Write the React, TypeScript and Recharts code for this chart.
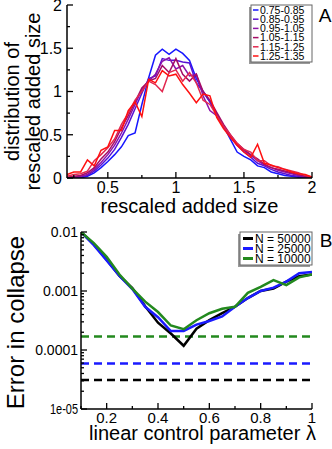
import React from "react";
import { LineChart, Line, XAxis, YAxis, ReferenceLine } from "recharts";

// panel A: distribution of rescaled added size, one curve per birth-size bin
const sizeBins = [
  0.2, 0.25, 0.3, 0.35, 0.4, 0.45, 0.5, 0.55, 0.6, 0.65, 0.7, 0.75, 0.8, 0.85, 0.9, 0.95, 1.0, 1.05, 1.1,
  1.15, 1.2, 1.25, 1.3, 1.35, 1.4, 1.45, 1.5, 1.55, 1.6, 1.65, 1.7, 1.75, 1.8, 1.85, 1.9, 1.95, 2.0,
];
const binNames = ["0.75-0.85", "0.85-0.95", "0.95-1.05", "1.05-1.15", "1.15-1.25", "1.25-1.35"];
const binColors = ["#1616ff", "#5810d4", "#8c12aa", "#a60c66", "#e2284f", "#ff1010"];

const dist075 = [0, 0, 0, 0.02, 0.06, 0.12, 0.19, 0.27, 0.36, 0.49, 0.52, 0.85, 1.16, 1.42, 1.49, 1.43, 1.49, 1.44, 1.36, 1.15, 1.0, 0.88, 0.73, 0.6, 0.45, 0.3, 0.25, 0.21, 0.14, 0.12, 0.07, 0.05, 0.03, 0.02, 0.01, 0, 0];
const dist085 = [0, 0, 0.01, 0.03, 0.08, 0.15, 0.23, 0.33, 0.47, 0.62, 0.8, 0.98, 1.15, 1.18, 1.38, 1.36, 1.36, 1.34, 1.33, 1.1, 1.0, 0.88, 0.74, 0.6, 0.48, 0.38, 0.3, 0.24, 0.17, 0.14, 0.1, 0.07, 0.05, 0.03, 0.02, 0.01, 0];
const dist095 = [0, 0.01, 0.02, 0.04, 0.1, 0.18, 0.27, 0.38, 0.52, 0.68, 0.85, 1.02, 1.12, 1.2, 1.35, 1.39, 1.26, 1.3, 1.18, 1.2, 0.95, 0.78, 0.72, 0.6, 0.48, 0.38, 0.32, 0.26, 0.2, 0.15, 0.12, 0.09, 0.07, 0.05, 0.03, 0.02, 0];
const dist105 = [0.01, 0.02, 0.03, 0.06, 0.12, 0.22, 0.3, 0.42, 0.58, 0.72, 0.88, 1.04, 1.12, 1.15, 1.3, 1.22, 1.38, 1.2, 1.12, 1.2, 1.0, 0.9, 0.76, 0.62, 0.5, 0.4, 0.33, 0.27, 0.22, 0.16, 0.12, 0.1, 0.08, 0.06, 0.04, 0.02, 0];
const dist115 = [0.02, 0.04, 0.05, 0.08, 0.2, 0.27, 0.35, 0.45, 0.62, 0.75, 0.9, 1.0, 1.12, 1.08, 1.0, 1.22, 1.25, 1.12, 1.22, 1.1, 0.9, 0.85, 0.72, 0.6, 0.5, 0.4, 0.33, 0.3, 0.2, 0.2, 0.14, 0.13, 0.1, 0.08, 0.06, 0.03, 0.01];
const dist125 = [0.04, 0.07, 0.07, 0.21, 0.14, 0.32, 0.36, 0.55, 0.55, 0.78, 0.88, 0.71, 1.14, 1.1, 1.24, 1.18, 1.2, 1.08, 0.98, 0.87, 0.97, 0.95, 0.7, 0.57, 0.47, 0.38, 0.3, 0.24, 0.39, 0.17, 0.15, 0.12, 0.1, 0.07, 0.05, 0.04, 0.01];
const distSeries = [dist075, dist085, dist095, dist105, dist115, dist125];

const xTicksA = [0.25, 0.5, 0.75, 1, 1.25, 1.5, 1.75, 2];
const yTicksA = [0, 0.25, 0.5, 0.75, 1, 1.25, 1.5, 1.75, 2];

// panel B: collapse error vs lambda
const lambdas = [0.1, 0.15, 0.2, 0.25, 0.3, 0.35, 0.4, 0.45, 0.5, 0.55, 0.6, 0.65, 0.7, 0.75, 0.8, 0.85, 0.9, 0.95, 1.0];
const err50000 = [0.01, 0.0062, 0.0034, 0.0018, 0.00112, 0.00055, 0.00029, 0.00019, 0.000118, 0.00023, 0.00032, 0.00042, 0.00054, 0.00076, 0.001, 0.0011, 0.00144, 0.00178, 0.0019];
const err25000 = [0.01, 0.006, 0.0033, 0.0018, 0.00108, 0.00054, 0.00036, 0.00021, 0.00021, 0.00027, 0.00031, 0.00037, 0.00054, 0.00076, 0.001, 0.00114, 0.00144, 0.002, 0.0021];
const err10000 = [0.01, 0.0065, 0.0038, 0.0019, 0.0011, 0.00066, 0.00044, 0.00026, 0.000225, 0.00032, 0.00042, 0.0005, 0.00054, 0.00093, 0.00118, 0.00153, 0.00126, 0.0017, 0.0019];
const noiseFloor = [0.000031, 0.000059, 0.00017]; // 50000, 25000, 10000
const sizeNames = ["N = 50000", "N = 25000", "N = 10000"];
const sizeColors = ["#000000", "#1a1aff", "#23891e"];

const xTicksB = [0.1, 0.2, 0.3, 0.4, 0.5, 0.6, 0.7, 0.8, 0.9, 1];
const yTicksB: number[] = [];
[1e-5, 1e-4, 1e-3].forEach((d) => {
  for (let k = 1; k < 10; k++) yTicksB.push(k * d);
});
yTicksB.push(1e-2);
const yLabelsB: Record<string, string> = { "-2": "0.01", "-3": "0.001", "-4": "0.0001", "-5": "1e-05" };

const dataA = sizeBins.map((x, i) => {
  const row: any = { x };
  distSeries.forEach((s, j) => (row["s" + j] = s[i]));
  return row;
});
const dataB = lambdas.map((x, i) => ({ x, n50000: err50000[i], n25000: err25000[i], n10000: err10000[i] }));
const keysB = ["n50000", "n25000", "n10000"];

const near = (v: number) => Math.abs(v - Math.round(v)) < 1e-6;
const majorA = (v: number) => near(v * 2);
const majorBx = (v: number) => near(v * 5);
const majorBy = (v: number) => near(Math.log10(v));

const fmtA = (v: number) => String(v);
const fmtBx = (v: number) => (v === 1 ? "1" : v.toFixed(1));
const fmtBy = (v: number) => yLabelsB[String(Math.round(Math.log10(v)))];

// inward ticks (xmgrace style), labels only on major ticks
const Tick = ({ x, y, payload, side, isMajor, fmt, fontSize, gap, squeeze }: any) => {
  const v = payload.value;
  const major = isMajor(v);
  const len = major ? 6 : 3;
  let line;
  if (side === "left") line = <line x1={x} y1={y} x2={x + len} y2={y} />;
  else if (side === "right") line = <line x1={x} y1={y} x2={x - len} y2={y} />;
  else if (side === "top") line = <line x1={x} y1={y} x2={x} y2={y + len} />;
  else line = <line x1={x} y1={y} x2={x} y2={y - len} />;
  let label = null;
  if (major && fmt) {
    const txt = fmt(v);
    if (side === "left") {
      const sq = squeeze && txt === "1e-05" ? { textLength: 28, lengthAdjust: "spacingAndGlyphs" } : {};
      label = (
        <text x={x - gap} y={y} dy="0.36em" textAnchor="end" fontSize={fontSize} fill="#000" {...sq}>
          {txt}
        </text>
      );
    } else {
      label = (
        <text x={x} y={y + gap} dy="0.71em" textAnchor="middle" fontSize={fontSize} fill="#000">
          {txt}
        </text>
      );
    }
  }
  return (
    <g>
      <g stroke="#000" strokeWidth={1.3}>{line}</g>
      {label}
    </g>
  );
};

const axisLine = { stroke: "#000", strokeWidth: 1.5 };

const App = () => {
  return (
    <div style={{ position: "absolute", left: 0, top: 0, width: 332, height: 449, background: "#fff", fontFamily: "'Liberation Sans', Arial, sans-serif" }}>
      <div style={{ position: "absolute", left: 0, top: 0 }}>
        <LineChart width={332} height={218} data={dataA} margin={{ top: 5, right: 20, left: 0, bottom: 0 }}>
          <XAxis xAxisId="b" dataKey="x" type="number" domain={[0.2, 2]} allowDataOverflow ticks={xTicksA} interval={0}
            tickSize={0} tickMargin={0} tickLine={false} axisLine={axisLine} height={40}
            tick={(p: any) => <Tick {...p} side="bottom" isMajor={majorA} fmt={fmtA} fontSize={16} gap={4} />}
            label={{ content: ({ viewBox }: any) => (
              <text x={viewBox.x + viewBox.width / 2} y={viewBox.y + 35} textAnchor="middle" fontSize={20} fill="#000">rescaled added size</text>
            ) }} />
          <XAxis xAxisId="t" orientation="top" type="number" domain={[0.2, 2]} allowDataOverflow ticks={xTicksA} interval={0}
            tickSize={0} tickMargin={0} tickLine={false} axisLine={axisLine} height={0}
            tick={(p: any) => <Tick {...p} side="top" isMajor={majorA} />} />
          <YAxis yAxisId="l" type="number" domain={[0, 2]} allowDataOverflow ticks={yTicksA} interval={0}
            tickSize={0} tickMargin={0} tickLine={false} axisLine={axisLine} width={67}
            tick={(p: any) => <Tick {...p} side="left" isMajor={majorA} fmt={fmtA} fontSize={16} gap={5} />}
            label={{ content: ({ viewBox }: any) => {
              const cy = viewBox.y + viewBox.height / 2 + 10;
              return (
                <g fontSize={20} fill="#000">
                  <text x={12} y={cy} dy="0.36em" textAnchor="middle" transform={`rotate(-90 12 ${cy})`}>distribution of</text>
                  <text x={33} y={cy} dy="0.36em" textAnchor="middle" transform={`rotate(-90 33 ${cy})`}>rescaled added size</text>
                </g>
              );
            } }} />
          <YAxis yAxisId="r" orientation="right" type="number" domain={[0, 2]} allowDataOverflow ticks={yTicksA} interval={0}
            tickSize={0} tickMargin={0} tickLine={false} axisLine={axisLine} width={0}
            tick={(p: any) => <Tick {...p} side="right" isMajor={majorA} />} />
          {binNames.map((name, j) => (
            <Line key={name} xAxisId="b" yAxisId="l" dataKey={"s" + j} name={name} stroke={binColors[j]}
              strokeWidth={1.5} dot={false} isAnimationActive={false} />
          ))}
        </LineChart>
      </div>

      <div style={{ position: "absolute", left: 0, top: 220 }}>
        <LineChart width={332} height={229} data={dataB} margin={{ top: 12, right: 20, left: 0, bottom: 0 }}>
          <XAxis xAxisId="b" dataKey="x" type="number" domain={[0.1, 1]} allowDataOverflow ticks={xTicksB} interval={0}
            tickSize={0} tickMargin={0} tickLine={false} axisLine={axisLine} height={40}
            tick={(p: any) => <Tick {...p} side="bottom" isMajor={majorBx} fmt={fmtBx} fontSize={15} gap={3} />}
            label={{ content: ({ viewBox }: any) => (
              <text x={viewBox.x + viewBox.width / 2 + 6} y={viewBox.y + 31} textAnchor="middle" fontSize={20} fill="#000">linear control parameter λ</text>
            ) }} />
          <XAxis xAxisId="t" orientation="top" type="number" domain={[0.1, 1]} allowDataOverflow ticks={xTicksB} interval={0}
            tickSize={0} tickMargin={0} tickLine={false} axisLine={axisLine} height={0}
            tick={(p: any) => <Tick {...p} side="top" isMajor={majorBx} />} />
          <YAxis yAxisId="l" type="number" scale="log" domain={[1e-5, 1e-2]} allowDataOverflow ticks={yTicksB} interval={0}
            tickSize={0} tickMargin={0} tickLine={false} axisLine={axisLine} width={81}
            tick={(p: any) => <Tick {...p} side="left" isMajor={majorBy} fmt={fmtBy} fontSize={14} gap={3} squeeze />}
            label={{ content: ({ viewBox }: any) => {
              const cy = viewBox.y + viewBox.height / 2 + 2;
              return (
                <text x={15} y={cy} dy="0.36em" textAnchor="middle" fontSize={24} fill="#000" transform={`rotate(-90 15 ${cy})`}>Error in collapse</text>
              );
            } }} />
          <YAxis yAxisId="r" orientation="right" type="number" scale="log" domain={[1e-5, 1e-2]} allowDataOverflow ticks={yTicksB} interval={0}
            tickSize={0} tickMargin={0} tickLine={false} axisLine={axisLine} width={0}
            tick={(p: any) => <Tick {...p} side="right" isMajor={majorBy} />} />
          {noiseFloor.map((v, j) => (
            <ReferenceLine key={"floor" + j} xAxisId="b" yAxisId="l" y={v} stroke={sizeColors[j]} strokeWidth={2.5} strokeDasharray="8 5" />
          ))}
          {keysB.map((k, j) => (
            <Line key={k} xAxisId="b" yAxisId="l" dataKey={k} name={sizeNames[j]} stroke={sizeColors[j]}
              strokeWidth={2.5} dot={false} isAnimationActive={false} />
          ))}
        </LineChart>
      </div>

      <svg width={332} height={449} style={{ position: "absolute", left: 0, top: 0, pointerEvents: "none" }}>
        {/* legend A */}
        <rect x={249} y={7} width={61} height={57} fill="#999" />
        <rect x={251} y={5} width={61} height={57} fill="#fff" stroke="#666" strokeWidth={1} />
        {binNames.map((name, j) => (
          <g key={name}>
            <line x1={253} x2={258.5} y1={10 + j * 9.2} y2={10 + j * 9.2} stroke={binColors[j]} strokeWidth={1.5} />
            <text x={260} y={10 + j * 9.2} dy="0.36em" fontSize={10.5} fill="#000">{name}</text>
          </g>
        ))}
        <text x={325} y={22} textAnchor="middle" fontSize={19} fill="#000">A</text>

        {/* legend B */}
        <rect x={238} y={234} width={72} height={33} fill="#999" />
        <rect x={240} y={232} width={72} height={33} fill="#fff" stroke="#666" strokeWidth={1} />
        {sizeNames.map((name, j) => (
          <g key={name}>
            <line x1={243} x2={253} y1={238.5 + j * 10} y2={238.5 + j * 10} stroke={sizeColors[j]} strokeWidth={3} />
            <text x={255} y={238.5 + j * 10} dy="0.36em" fontSize={12} fill="#000">{name}</text>
          </g>
        ))}
        <text x={326} y={247} textAnchor="middle" fontSize={19} fill="#000">B</text>
      </svg>
    </div>
  );
};

export default App;
